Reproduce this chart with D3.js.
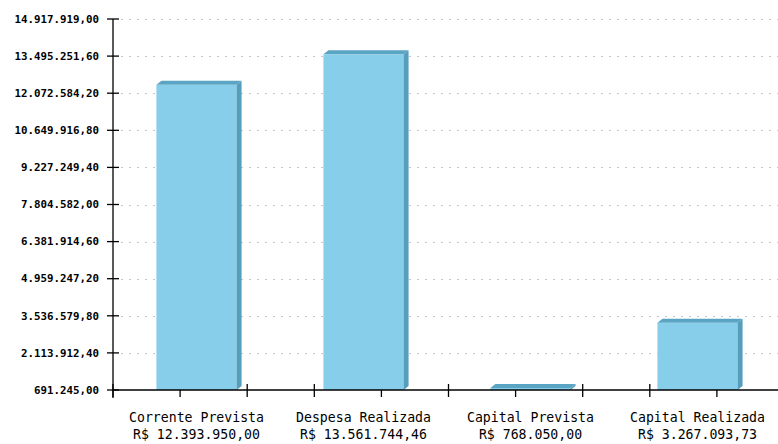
<!DOCTYPE html>
<html><head><meta charset="utf-8">
<script src="https://cdn.jsdelivr.net/npm/d3@7"></script>
<style>body{margin:0;background:#fff}svg{display:block}</style>
</head><body>
<script>
const categories = ["Corrente Prevista", "Despesa Realizada", "Capital Prevista", "Capital Realizada"];
const valueLabels = ["R$ 12.393.950,00", "R$ 13.561.744,46", "R$ 768.050,00", "R$ 3.267.093,73"];
const values = [12393950.00, 13561744.46, 768050.00, 3267093.73];
const yTicks = [691245.00, 2113912.40, 3536579.80, 4959247.20, 6381914.60, 7804582.00, 9227249.40, 10649916.80, 12072584.20, 13495251.60, 14917919.00];
const xMajorTicks = [0, 2, 3, 5, 7, 8];
const xMinorTicks = [1, 4, 6, 9];

(function () {
const W = 778, H = 444;
const mLeft = 113, mRight = 781, mTop = 19, mBottom = 390;
const svg = d3.select("body").append("svg").attr("width", W).attr("height", H);

const y = d3.scaleLinear().domain([yTicks[0], yTicks[yTicks.length-1]]).range([mBottom, mTop]);
const x = d3.scaleBand().domain(categories).range([mLeft, mRight]).paddingInner(0.52).paddingOuter(0.26);
const xt = d3.scaleLinear().domain([0, 10]).range([mLeft, 784]);

const fmt = v => {
  const s = v.toFixed(2).split(".");
  return s[0].replace(/\B(?=(\d{3})+(?!\d))/g, ".") + "," + s[1];
};

// grid
svg.append("g").selectAll("line").data(yTicks.slice(1)).join("line")
  .attr("x1", 121).attr("x2", W).attr("y1", d => Math.round(y(d)) + 0.5).attr("y2", d => Math.round(y(d)) + 0.5)
  .attr("stroke", "#c8c8c8").attr("stroke-width", 1).attr("stroke-dasharray", "2,6");

// bars
const dx = 5, dy = 4;
const bars = svg.append("g").selectAll("g").data(values).join("g");
bars.each(function(v, i) {
  const g = d3.select(this);
  const x0 = x(categories[i]), w = x.bandwidth();
  const yt = y(v);
  g.append("rect").attr("x", x0).attr("y", yt).attr("width", w).attr("height", mBottom - yt).attr("fill", "#87ceeb");
  g.append("path").attr("d", `M${x0},${yt} L${x0+dx},${yt-dy} L${x0+w+dx},${yt-dy} L${x0+w},${yt} Z`).attr("fill", "#5aa5c4");
  g.append("path").attr("d", `M${x0+w},${yt} L${x0+w+dx},${yt-dy} L${x0+w+dx},${mBottom-dy} L${x0+w},${mBottom} Z`).attr("fill", "#559fbd");
});

// axes
const ax = svg.append("g").attr("stroke", "#000").attr("stroke-width", 1.3);
ax.append("line").attr("x1", mLeft).attr("x2", W).attr("y1", mBottom).attr("y2", mBottom);
ax.append("line").attr("x1", mLeft).attr("x2", mLeft).attr("y1", mTop).attr("y2", mBottom + 8);
ax.selectAll(".yt").data(yTicks).join("line")
  .attr("x1", mLeft - 6).attr("x2", mLeft + 6).attr("y1", d => y(d)).attr("y2", d => y(d));
ax.selectAll(".xM").data(xMajorTicks).join("line")
  .attr("x1", d => xt(d)).attr("x2", d => xt(d)).attr("y1", mBottom - 6).attr("y2", mBottom + 7);
ax.selectAll(".xm").data(xMinorTicks).join("line")
  .attr("x1", d => xt(d)).attr("x2", d => xt(d)).attr("y1", mBottom).attr("y2", mBottom + 7);

// y labels
svg.append("g").selectAll("text").data(yTicks).join("text")
  .attr("x", 99).attr("y", d => y(d)).attr("dy", "0.35em").attr("text-anchor", "end")
  .attr("font-family", "DejaVu Sans Mono").attr("font-weight", "bold").attr("font-size", 10.8)
  .attr("fill", "#000").text(fmt);

// x labels
const xl = svg.append("g").selectAll("text").data(categories).join("text")
  .attr("text-anchor", "middle").attr("font-family", "DejaVu Sans Mono").attr("font-size", 13.2).attr("fill", "#000");
xl.append("tspan").attr("x", d => x(d) + x.bandwidth()/2).attr("y", 422).text(d => d);
xl.append("tspan").attr("x", d => x(d) + x.bandwidth()/2).attr("y", 439).text((d, i) => valueLabels[i]);
})();
</script>
</body></html>
